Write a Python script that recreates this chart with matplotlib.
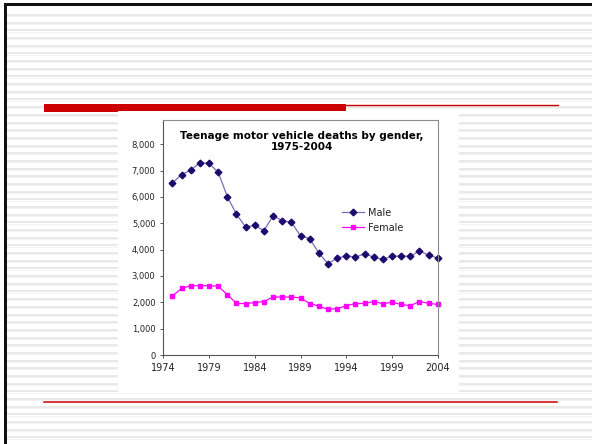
import matplotlib
matplotlib.use("Agg")
import matplotlib.pyplot as plt
from matplotlib.patches import Rectangle
from matplotlib.lines import Line2D
from matplotlib.ticker import FuncFormatter

years = list(range(1975, 2005))
male = [6530, 6850, 7010, 7300, 7270, 6940, 6010, 5340, 4860, 4920,
        4720, 5280, 5100, 5040, 4520, 4420, 3870, 3470, 3670, 3770,
        3710, 3850, 3710, 3630, 3750, 3750, 3750, 3950, 3790, 3680]
female = [2240, 2530, 2630, 2630, 2630, 2610, 2290, 1960, 1950, 1990,
          2030, 2200, 2200, 2200, 2170, 1950, 1860, 1730, 1760, 1870,
          1950, 1960, 2030, 1950, 2000, 1920, 1870, 2030, 1960, 1920]
series_names = ["Male", "Female"]
title = "Teenage motor vehicle deaths by gender,\n1975-2004"
x_ticks = [1974, 1979, 1984, 1989, 1994, 1999, 2004]
y_ticks = [0, 1000, 2000, 3000, 4000, 5000, 6000, 7000, 8000]

plt.rcParams['font.family'] = ['DejaVu Sans']

W, H = 592, 444
fig = plt.figure(figsize=(W / 100, H / 100), dpi=100)
fig.patch.set_facecolor('white')

# slide background in pixel coordinates
bg = fig.add_axes([0, 0, 1, 1], zorder=0)
bg.set_xlim(0, W)
bg.set_ylim(H, 0)
bg.axis('off')

y = 15.0
while y < H:
    bg.add_line(Line2D([7, W], [y, y], color='#e3e3e3', lw=1.1, zorder=1))
    bg.add_line(Line2D([7, W], [y + 1.2, y + 1.2], color='#f3f3f3', lw=0.7, zorder=1))
    y += 7.68

# borders
bg.add_patch(Rectangle((4, 3), W - 4, 3, facecolor='#111111', edgecolor='none', zorder=5))
bg.add_patch(Rectangle((4, 3), 3, H - 3, facecolor='#111111', edgecolor='none', zorder=5))

# red decorations
red = '#cc0000'
bg.add_patch(Rectangle((44, 104), 302, 7.5, facecolor=red, edgecolor='none', zorder=5))
bg.add_line(Line2D([346, 558], [104.6, 104.6], color=red, lw=1.0, zorder=5))
bg.add_line(Line2D([44, 557], [402.3, 402.3], color=red, lw=1.1, zorder=5))

# white chart area
bg.add_patch(Rectangle((118, 111), 341, 280.5, facecolor='white', edgecolor='none', zorder=6))

# plot axes
left_px, right_px, top_px, bot_px = 163.3, 437.7, 120.0, 355.0
ax = fig.add_axes([left_px / W, 1 - bot_px / H,
                   (right_px - left_px) / W, (bot_px - top_px) / H], zorder=2)
ax.set_facecolor('none')
px_per_1000 = 26.35
ax.set_xlim(1974, 2004)
ax.set_ylim(0, (bot_px - top_px) / px_per_1000 * 1000)

ax.plot(years, male, color='#7c6cb8', lw=0.9, marker='D', markersize=3.4,
        markerfacecolor='#1e0a6e', markeredgecolor='#1e0a6e', label=series_names[0],
        clip_on=False)
ax.plot(years, female, color='#ff00ff', lw=0.9, marker='s', markersize=3.3,
        markerfacecolor='#ff00ff', markeredgecolor='#ff00ff', label=series_names[1],
        clip_on=False)

ax.set_xticks(x_ticks)
ax.set_yticks(y_ticks)
ax.yaxis.set_major_formatter(FuncFormatter(lambda v, p: f"{int(v):,}"))
ax.tick_params(axis='y', direction='out', length=2.2, width=0.7, color='#555555',
               labelsize=6.0, pad=3.4, labelcolor='#222222')
ax.tick_params(axis='x', direction='out', length=2.2, width=0.7, color='#555555',
               labelsize=7, pad=3.4, labelcolor='#222222')
for s in ['left', 'bottom']:
    ax.spines[s].set_color('#555555')
    ax.spines[s].set_linewidth(0.8)
for s in ['top', 'right']:
    ax.spines[s].set_color('#8c8c8c')
    ax.spines[s].set_linewidth(0.8)

fig.text(301.5 / W, 1 - 141.3 / H, title, ha='center', va='center',
         fontsize=7.5, fontweight='bold', color='black', linespacing=1.15, zorder=3)

leg = ax.legend(loc='upper left', bbox_to_anchor=(341.7 / W, 1 - 207.5 / H),
                bbox_transform=fig.transFigure, frameon=False, fontsize=7,
                handlelength=2.3, handletextpad=0.38, borderpad=0,
                borderaxespad=0, labelspacing=0.55)
for t in leg.get_texts():
    t.set_color('#222222')

fig.savefig('out.png', dpi=100)
